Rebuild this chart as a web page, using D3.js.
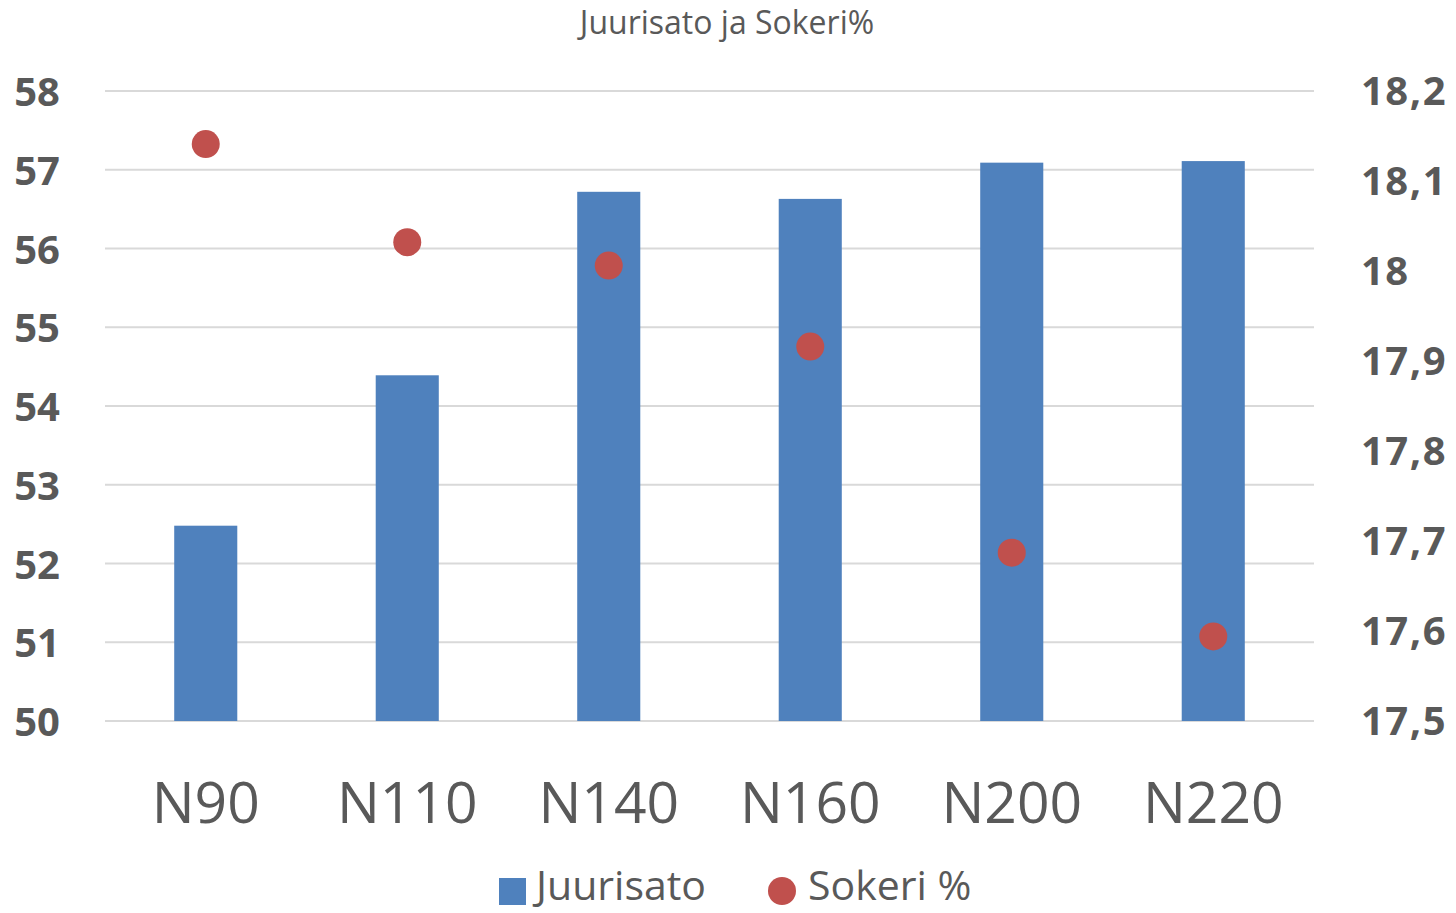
<!DOCTYPE html>
<html><head><meta charset="utf-8">
<script src="https://cdn.jsdelivr.net/npm/d3@7"></script>
<style>body{margin:0;background:#fff;} svg{display:block;}</style>
</head><body>
<svg id="c" width="1456" height="913"></svg>
<script>
const categories = ["N90","N110","N140","N160","N200","N220"];
const juurisato = [52.48, 54.39, 56.72, 56.63, 57.09, 57.11];
const sokeri = [18.141, 18.032, 18.006, 17.916, 17.687, 17.594];
const leftTicks = [50,51,52,53,54,55,56,57,58];
const rightTicks = [17.5,17.6,17.7,17.8,17.9,18.0,18.1,18.2];
const title = "Juurisato ja Sokeri%";
const seriesNames = ["Juurisato","Sokeri %"];

const svg = d3.select("#c");
const font = "'Open Sans', sans-serif";
const textCol = "#595959";
const pL = 105, pR = 1314, pT = 91, pB = 721;

const x = d3.scaleBand().domain(categories).range([pL,pR]).paddingInner(0.687).paddingOuter(0.3435);
const yL = d3.scaleLinear().domain([50,58]).range([pB,pT]);
const yR = d3.scaleLinear().domain([17.5,18.2]).range([pB,pT]);

svg.append("text").attr("x",727).attr("y",34).attr("text-anchor","middle")
  .attr("font-family",font).attr("font-size",32).attr("fill",textCol).text(title);

// grid
svg.append("g").selectAll("line").data(leftTicks).join("line")
  .attr("x1",pL).attr("x2",pR).attr("y1",d=>yL(d)).attr("y2",d=>yL(d))
  .attr("stroke","#d9d9d9").attr("stroke-width",2);

// left axis labels
svg.append("g").selectAll("text").data(leftTicks).join("text")
  .attr("x",60).attr("y",d=>yL(d)+15).attr("text-anchor","end")
  .attr("font-family",font).attr("font-weight","bold").attr("font-size",40).attr("fill",textCol)
  .text(d=>d);

// right axis labels
const fmtR = d=> (Math.abs(d-18)<1e-9 ? "18" : d3.format(".1f")(d).replace(".",","));
svg.append("g").selectAll("text").data(rightTicks).join("text")
  .attr("x",1361).attr("y",d=>yR(d)+14).attr("text-anchor","start")
  .attr("font-family",font).attr("font-weight","bold").attr("font-size",40)
  .attr("letter-spacing",1.5).attr("fill",textCol)
  .text(fmtR);

// bars
svg.append("g").selectAll("rect").data(categories).join("rect")
  .attr("x",d=>x(d)).attr("width",x.bandwidth())
  .attr("y",(d,i)=>yL(juurisato[i])).attr("height",(d,i)=>yL(50)-yL(juurisato[i]))
  .attr("fill","#4f81bd");

// dots
svg.append("g").selectAll("circle").data(categories).join("circle")
  .attr("cx",d=>x(d)+x.bandwidth()/2).attr("cy",(d,i)=>yR(sokeri[i])).attr("r",14)
  .attr("fill","#c0504d");

// x labels
svg.append("g").selectAll("text").data(categories).join("text")
  .attr("x",d=>x(d)+x.bandwidth()/2).attr("y",823).attr("text-anchor","middle")
  .attr("font-family",font).attr("font-size",57).attr("fill",textCol).text(d=>d);

// legend
const lg = svg.append("g");
lg.append("rect").attr("x",499).attr("y",878).attr("width",27).attr("height",27).attr("fill","#4f81bd");
lg.append("text").attr("x",536).attr("y",900).attr("font-family",font).attr("font-size",41).attr("fill",textCol).text(seriesNames[0]);
lg.append("circle").attr("cx",782).attr("cy",891).attr("r",14).attr("fill","#c0504d");
lg.append("text").attr("x",808).attr("y",900).attr("font-family",font).attr("font-size",41).attr("fill",textCol).text(seriesNames[1]);
</script>
</body></html>
